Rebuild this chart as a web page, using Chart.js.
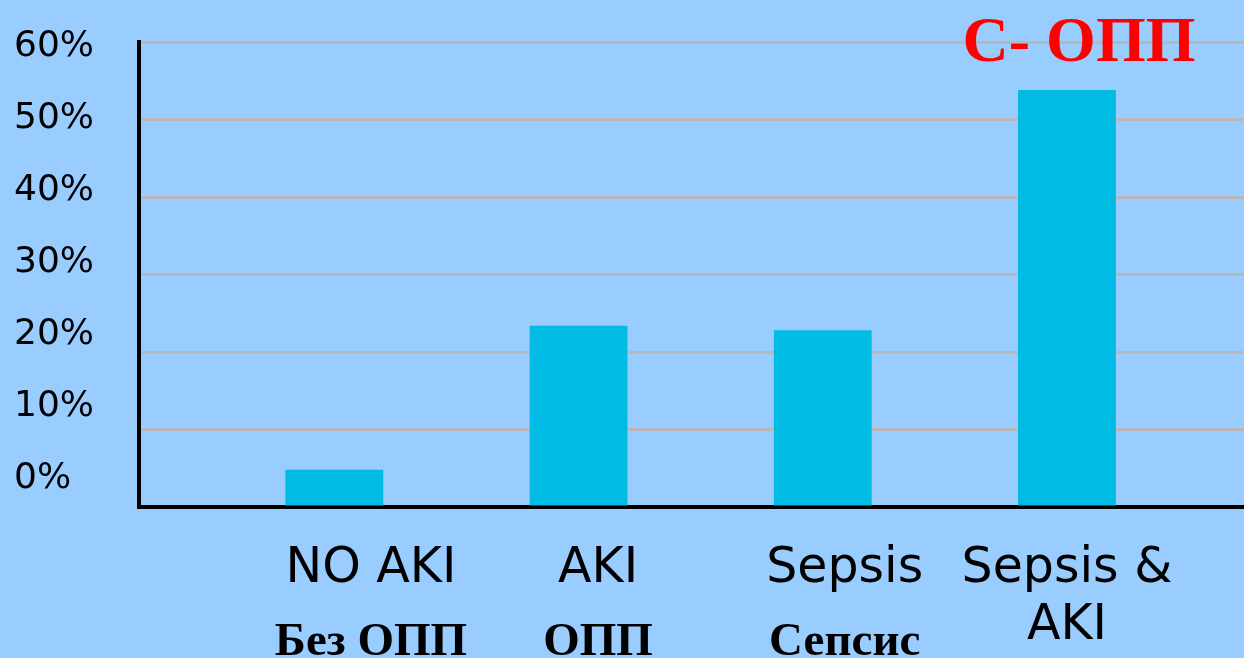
<!DOCTYPE html>
<html>
<head>
<meta charset="utf-8">
<script src="https://cdn.jsdelivr.net/npm/chart.js@4"></script>
<style>
  body { margin: 0; background: #99CCFF; }
  canvas { display: block; }
</style>
</head>
<body>
<canvas id="chart" width="1244" height="658"></canvas>
<script>
// data
var labelsEn = [["NO AKI"], ["AKI"], ["Sepsis"], ["Sepsis &", "AKI"]];
var labelsRu = ["Без ОПП", "ОПП", "Сепсис", ""];
var values = [4.8, 23.4, 22.8, 53.8];
var yTicks = [0, 10, 20, 30, 40, 50, 60];
var titleText = "С- ОПП";

// labels in the original sit a bit right of their bars
var labelShift = [0.15, 0.08, 0.09, 0];

var xMin = -0.8, xMax = 3.725;

function labelTicks(scale) {
    scale.ticks = labelsRu.map(function (l, i) { return { value: i + labelShift[i] }; });
}

// second row: russian label, or the 2nd line of the english one when there is none
function secondRow(i) {
    return labelsRu[i] || labelsEn[i][1] || "";
}

// red caption top right
var captionPlugin = {
    id: "caption",
    afterDraw: function (chart) {
        var ctx = chart.ctx;
        ctx.save();
        ctx.font = "bold 64px 'Liberation Serif'";
        ctx.fillStyle = "#FF0000";
        ctx.textAlign = "center";
        ctx.textBaseline = "alphabetic";
        ctx.fillText(titleText, chart.chartArea.right - 165, 61);
        ctx.restore();
    }
};

var ctx = document.getElementById("chart").getContext("2d");
new Chart(ctx, {
    type: "bar",
    data: {
        datasets: [{
            data: values.map(function (v, i) { return { x: i, y: v }; }),
            backgroundColor: "#00BBE4",
            borderWidth: 0,
            categoryPercentage: 1,
            barPercentage: 0.44,
            xAxisID: "x",
            yAxisID: "y"
        }]
    },
    options: {
        responsive: false,
        animation: false,
        layout: { padding: { left: 14, top: 42, right: 0, bottom: 0 } },
        plugins: { legend: { display: false }, tooltip: { enabled: false } },
        scales: {
            y: {
                type: "linear",
                min: 0,
                max: 60,
                weight: 0,
                ticks: { display: false, stepSize: 10 },
                grid: { color: "#B8B8B8", lineWidth: 3, drawTicks: false },
                border: { display: true, color: "#000000", width: 4 },
                afterFit: function (s) { s.width = 0; }
            },
            yl: {
                type: "linear",
                position: "left",
                min: -3.89,
                max: 60.69,
                weight: 10,
                grid: { display: false },
                border: { display: false },
                afterBuildTicks: function (s) {
                    s.ticks = yTicks.map(function (v) { return { value: v }; });
                },
                ticks: {
                    crossAlign: "far",
                    color: "#000000",
                    font: { family: "'DejaVu Sans'", size: 36 },
                    callback: function (v) { return v + "%"; }
                },
                afterFit: function (s) { s.width = 125; }
            },
            x: {
                type: "linear",
                position: "bottom",
                offset: false,
                min: xMin,
                max: xMax,
                weight: 0,
                grid: { display: false },
                border: { display: true, color: "#000000", width: 4 },
                afterBuildTicks: labelTicks,
                ticks: {
                    autoSkip: false,
                    maxRotation: 0,
                    padding: 24,
                    color: "#000000",
                    font: { family: "'DejaVu Sans'", size: 49, lineHeight: 1.25 },
                    callback: function (v, i) { return labelsEn[i][0]; }
                },
                afterFit: function (s) { s.height = 90; }
            },
            x2: {
                type: "linear",
                position: "bottom",
                offset: false,
                min: xMin,
                max: xMax,
                weight: 1,
                grid: { display: false },
                border: { display: false },
                afterBuildTicks: labelTicks,
                ticks: {
                    autoSkip: false,
                    maxRotation: 0,
                    padding: 10,
                    color: "#000000",
                    font: function (c) {
                        if (labelsRu[c.index]) {
                            return { family: "'Liberation Serif'", size: 47, weight: "bold", lineHeight: 1.2 };
                        }
                        return { family: "'DejaVu Sans'", size: 49, lineHeight: 0.46 };
                    },
                    callback: function (v, i) { return secondRow(i); }
                },
                afterFit: function (s) { s.height = 61; }
            }
        }
    },
    plugins: [captionPlugin]
});
</script>
</body>
</html>
